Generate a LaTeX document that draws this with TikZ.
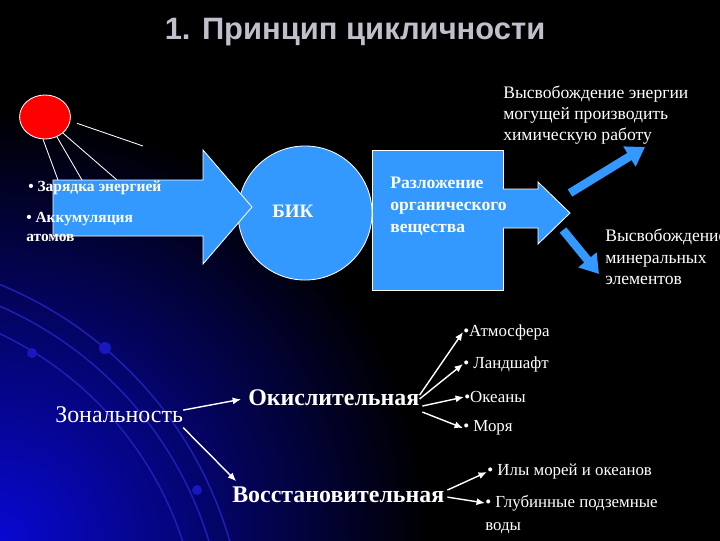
\documentclass[tikz,border=0pt]{standalone}
\usepackage{fontspec}
\setmainfont{Liberation Serif}
\newfontfamily\headfont{Liberation Sans}
\usetikzlibrary{arrows.meta,shapes.geometric}
\definecolor{slideblue}{RGB}{51,153,255}
\definecolor{headgray}{RGB}{192,192,204}
\definecolor{glowblue}{RGB}{8,8,210}
\definecolor{arcblue}{RGB}{30,30,175}
\tikzset{
  lbl/.style={anchor=west, inner sep=0pt, text=white, font=\fontsize{12}{15}\selectfont},
  boldlbl/.style={lbl, font=\bfseries\fontsize{11}{14}\selectfont},
  zone/.style={lbl, font=\fontsize{17}{20}\selectfont},
  bigarrow/.style={fill=slideblue, draw=white, line width=0.6pt},
  ray/.style={draw=white, line width=0.6pt},
  ptr/.style={draw=white, line width=1pt, -{Latex[length=6pt,width=5pt]}},
  fork/.style={draw=slideblue, line width=6pt, -{Triangle[length=13pt,width=16pt]}}
}
\begin{document}
\begin{tikzpicture}[x=0.025cm,y=-0.025cm]
\useasboundingbox (0,0) rectangle (720,540);
\clip (0,0) rectangle (720,540);
\fill[black] (-5,-5) rectangle (725,545);
% glow in the corner
\shade[inner color=glowblue, outer color=black] (0,540) circle[radius=430];
\draw[arcblue, line width=1.1pt] (-150,650) ++(-70:350) arc[start angle=-70, end angle=-5, radius=350];
\draw[arcblue, line width=1.1pt] (-150,650) ++(-72:375) arc[start angle=-72, end angle=-5, radius=375];
\draw[arcblue, line width=1.1pt] (-150,650) ++(-74:395) arc[start angle=-74, end angle=-5, radius=395];
\fill[arcblue!80!blue] (32,353) circle[radius=5];
\fill[arcblue!80!blue] (105,348) circle[radius=6];
\fill[arcblue!80!blue] (197,490) circle[radius=5];

\node[font=\headfont\bfseries\fontsize{22}{26}\selectfont, text=headgray] (title) at (355,32) {1. Принцип цикличности};

% sun
\node[ellipse, fill=red, draw=white, line width=0.6pt, minimum width=1.27cm, minimum height=1.1cm, inner sep=0pt] (sun) at (45,117) {};
\coordinate (r1) at (143,146);
\coordinate (r2) at (58,180);
\coordinate (r3) at (82,180);
\coordinate (r4) at (117,180);
\draw[ray, shorten <=5pt] (sun.-9) -- (r1);
\draw[ray] (sun.-95) -- (r2);
\draw[ray] (sun.-59) -- (r3);
\draw[ray] (sun.-42) -- (r4);

% BIK
\node[circle, fill=slideblue, draw=white, line width=0.6pt, minimum size=3.35cm] (bik) at (305,213) {};
\draw[bigarrow] (53,180) -- (203,180) -- (203,150) -- (252,207) -- (203,264) -- (203,236) -- (53,236) -- cycle;
\node[boldlbl] (charge) at (28,188) {• Зарядка энергией};
\node[boldlbl, align=left] (accum) at (26,227) {• Аккумуляция\\атомов};
\node[lbl, font=\bfseries\fontsize{13.5}{16}\selectfont] (biktxt) at (272,211) {БИК};

% decomposition
\draw[bigarrow] (372,150) rectangle (503,290);
\filldraw[bigarrow] (503,189) -- (538,189) -- (538,182) -- (570,213) -- (538,244) -- (538,228) -- (503,228);
\node[lbl, align=left, font=\bfseries\fontsize{12.5}{15.5}\selectfont] (decomp) at (390,206) {Разложение\\органического\\вещества};

\coordinate (upS) at (570,193);
\coordinate (upE) at (645,147);
\coordinate (dnS) at (563,230);
\coordinate (dnE) at (599,274);
\draw[fork] (upS) -- (upE);
\draw[fork] (dnS) -- (dnE);
\node[lbl, align=left, font=\fontsize{12.5}{15.2}\selectfont] (energy) at (503,115) {Высвобождение энергии\\могущей производить\\химическую работу};
\node[lbl, align=left, font=\fontsize{12.5}{15.2}\selectfont] (mineral) at (605,257) {Высвобождение\\минеральных\\элементов};

% zonality
\node[zone] (zon) at (55,415) {Зональность};
\node[zone, font=\bfseries\fontsize{17}{20}\selectfont] (okis) at (248,398) {Окислительная};
\node[zone, font=\bfseries\fontsize{17}{20}\selectfont] (vost) at (232,495) {Восстановительная};
\draw[ptr, shorten >=5pt] ([yshift=3.5pt]zon.east) -- (okis.west);
\draw[ptr] ([yshift=-9pt]zon.east) -- ([xshift=3pt,yshift=4pt]vost.north west);

\node[lbl] (atm) at (463,332) {•Атмосфера};
\node[lbl] (land) at (463,364) {• Ландшафт};
\node[lbl] (ocean) at (464,397) {•Океаны};
\node[lbl] (sea) at (463,428) {• Моря};
\draw[ptr] ([yshift=2pt]okis.east) -- (atm.west);
\draw[ptr] ([yshift=-0.7pt]okis.east) -- (land.west);
\draw[ptr] ([xshift=2pt,yshift=-5.7pt]okis.east) -- (ocean.west);
\draw[ptr] ([xshift=2pt,yshift=-10pt]okis.east) -- (sea.west);

\node[lbl] (ily) at (487,472) {• Илы морей и океанов};
\node[lbl] (deep) at (485,503) {• Глубинные подземные};
\node[lbl] (deepb) at (485,528) {воды};
\draw[ptr] ([xshift=2pt,yshift=3.5pt]vost.east) -- (ily.west);
\draw[ptr] ([xshift=2pt,yshift=-1.5pt]vost.east) -- (deep.west);
\end{tikzpicture}
\end{document}
